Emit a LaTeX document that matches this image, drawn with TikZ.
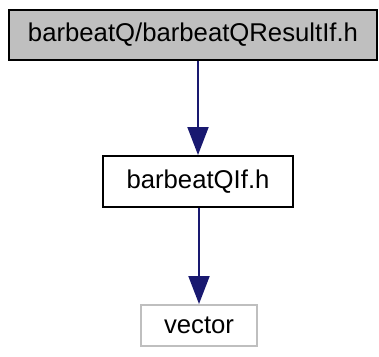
\documentclass[tikz,border=0pt]{standalone}
\usepackage{fontspec}
\setmainfont{Liberation Sans}
\usetikzlibrary{arrows.meta}

\begin{document}
\begin{tikzpicture}[x=1pt,y=-1pt]

\useasboundingbox (0,0) rectangle (379,356);

\node[align=center] (resultif) [style={minimum height=50pt, minimum width=368pt, draw=black,fill=black!25,text=black,shape=rectangle,line width=2pt, inner sep=0pt}] at (193, 34.5) {\fontsize{25.7pt}{30pt}\selectfont barbeatQ/barbeatQResultIf.h};

\node[align=center] (qif) [style={minimum height=51pt, minimum width=190pt, draw=black,fill=white,text=black,shape=rectangle,line width=2pt, inner sep=0pt}] at (198, 181.5) {\fontsize{25.7pt}{30pt}\selectfont barbeatQIf.h};

\node[align=center] (vector) [style={minimum height=41pt, minimum width=116pt, draw=black!25,fill=white,text=black,shape=rectangle,line width=2pt, inner sep=0pt}] at (199, 325.5) {\fontsize{25.7pt}{30pt}\selectfont vector};

\draw (resultif.south -| qif.north) edge[line width=2pt,color={rgb,255:red,25;green,25;blue,112},-{Triangle[length=28pt,width=21pt]}] (qif.north);
\draw (qif.south -| vector.north) edge[line width=2pt,color={rgb,255:red,25;green,25;blue,112},-{Triangle[length=28pt,width=21pt]}] (vector.north);

\end{tikzpicture}
\end{document}
